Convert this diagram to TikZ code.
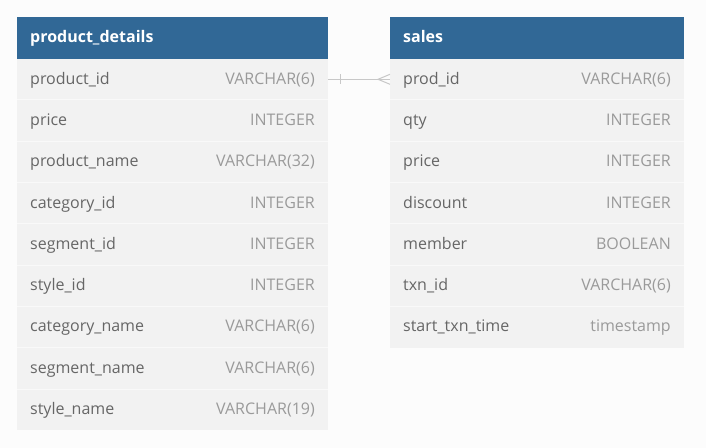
\documentclass[tikz,border=0pt]{standalone}
\usepackage{fontspec}
\setmainfont{Open Sans}
\definecolor{bgc}{HTML}{FCFCFC}
\definecolor{hdr}{HTML}{316896}
\definecolor{rowc}{HTML}{F2F2F2}
\definecolor{sepc}{HTML}{F9F9F9}
\definecolor{namec}{HTML}{666666}
\definecolor{typec}{HTML}{9A9A9A}
\definecolor{linkc}{HTML}{C8C8C8}
\begin{document}
\begin{tikzpicture}[x=1bp,y=-1bp,
  hdrtext/.style={anchor=base west,text=white,font=\fontsize{16bp}{18bp}\selectfont\bfseries,inner sep=0pt},
  nametext/.style={anchor=base west,text=namec,font=\fontsize{16bp}{18bp}\selectfont,inner sep=0pt},
  typetext/.style={anchor=base east,text=typec,font=\fontsize{16bp}{18bp}\selectfont,inner sep=0pt},
  seprule/.style={draw=sepc,line width=1bp},
  linkline/.style={draw=linkc,line width=1bp}]
\fill[bgc] (0,0) rectangle (706,448);
\useasboundingbox (0,0) rectangle (706,448);
\def\rh{41.3}
% product_details
\fill[rowc] (17,58.6) rectangle (328,430.3);
\fill[hdr] (17,17) rectangle (328,58.6);
\node[hdrtext] (pdh) at (30,42.7) {product\_details};
\foreach \n/\t [count=\i from 0] in {product\_id/VARCHAR(6),price/INTEGER,product\_name/VARCHAR(32),category\_id/INTEGER,segment\_id/INTEGER,style\_id/INTEGER,category\_name/VARCHAR(6),segment\_name/VARCHAR(6),style\_name/VARCHAR(19)}{
  \node[nametext] (pn\i) at (30,{58.6+(\i+0.5)*\rh+4.9}) {\n};
  \node[typetext] (pt\i) at (315,{58.6+(\i+0.5)*\rh+4.9}) {\t};
  \ifnum\i>0 \draw[seprule] (17,{58.6+\i*\rh}) -- (328,{58.6+\i*\rh}); \fi
}
% sales
\fill[rowc] (390,58.6) rectangle (684,347.7);
\fill[hdr] (390,17) rectangle (684,58.6);
\node[hdrtext] (sh) at (403,42.7) {sales};
\foreach \n/\t [count=\i from 0] in {prod\_id/VARCHAR(6),qty/INTEGER,price/INTEGER,discount/INTEGER,member/BOOLEAN,txn\_id/VARCHAR(6),start\_txn\_time/timestamp}{
  \node[nametext] (sn\i) at (403,{58.6+(\i+0.5)*\rh+4.9}) {\n};
  \node[typetext] (st\i) at (671,{58.6+(\i+0.5)*\rh+4.9}) {\t};
  \ifnum\i>0 \draw[seprule] (390,{58.6+\i*\rh}) -- (684,{58.6+\i*\rh}); \fi
}
% connector
\coordinate (ca) at (328,79.3);
\coordinate (cb) at (390,79.3);
\coordinate (cf) at (378,79.3);
\draw[linkline] (ca) -- (cb);
\draw[linkline] (340,74.3) -- (340,84.3);
\draw[linkline] (cb|-0,74.3) -- (cf) -- (cb|-0,84.3);
\end{tikzpicture}
\end{document}
